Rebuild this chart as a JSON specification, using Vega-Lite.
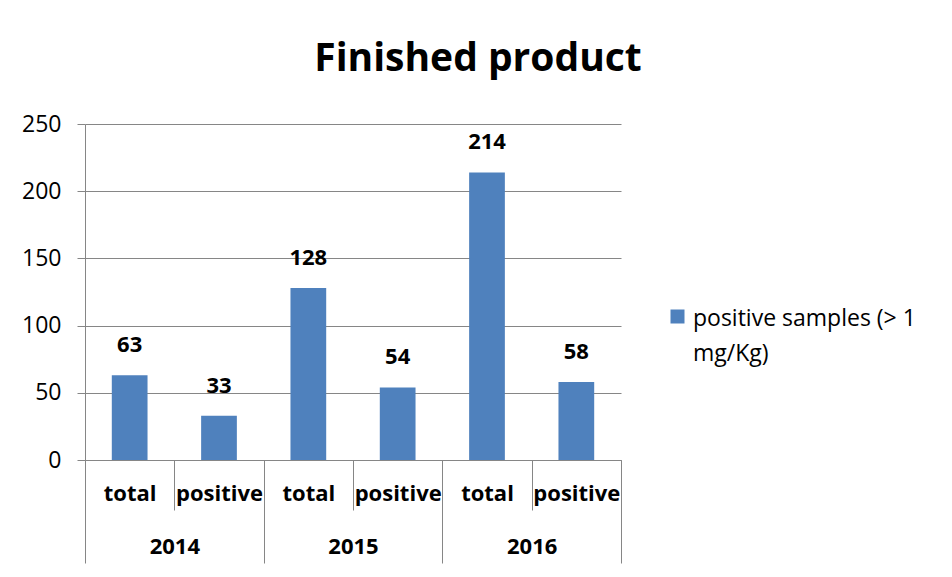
{
  "$schema": "https://vega.github.io/schema/vega-lite/v6.json",
  "width": 536,
  "height": 336,
  "autosize": "none",
  "padding": {"left": 85, "top": 124, "right": 331, "bottom": 117},
  "background": "white",
  "title": {
    "text": "Finished product",
    "font": "Open Sans",
    "fontSize": 39,
    "fontWeight": "bold",
    "color": "black",
    "anchor": "middle",
    "baseline": "alphabetic",
    "dx": 125,
    "dy": 21,
    "offset": 24
  },
  "data": {
    "values": [
      {"cat": "2014 total", "year": "2014", "kind": "total", "value": 63, "series": "positive samples (> 1 mg/Kg)"},
      {"cat": "2014 positive", "year": "2014", "kind": "positive", "value": 33, "series": "positive samples (> 1 mg/Kg)"},
      {"cat": "2015 total", "year": "2015", "kind": "total", "value": 128, "series": "positive samples (> 1 mg/Kg)"},
      {"cat": "2015 positive", "year": "2015", "kind": "positive", "value": 54, "series": "positive samples (> 1 mg/Kg)"},
      {"cat": "2016 total", "year": "2016", "kind": "total", "value": 214, "series": "positive samples (> 1 mg/Kg)"},
      {"cat": "2016 positive", "year": "2016", "kind": "positive", "value": 58, "series": "positive samples (> 1 mg/Kg)"}
    ]
  },
  "layer": [
    {
      "mark": {"type": "bar", "color": "#4F81BD"},
      "encoding": {
        "x": {
          "field": "year",
          "type": "nominal",
          "sort": null,
          "scale": {"type": "band", "paddingInner": 0, "paddingOuter": 0},
          "axis": {
            "title": null,
            "orient": "bottom",
            "labelAngle": 0,
            "tickBand": "extent",
            "tickSize": 103,
            "tickColor": "#868686",
            "domainColor": "#868686",
            "labelFont": "Open Sans",
            "labelFontSize": 22,
            "labelFontWeight": "bold",
            "labelColor": "black",
            "labelBaseline": "alphabetic",
            "labelPadding": -10
          }
        },
        "xOffset": {
          "field": "kind",
          "type": "nominal",
          "sort": ["total", "positive"],
          "scale": {"paddingInner": 0.6, "paddingOuter": 0.3}
        },
        "y": {
          "field": "value",
          "type": "quantitative",
          "scale": {"domain": [0, 250], "nice": false},
          "axis": {
            "title": null,
            "values": [0, 50, 100, 150, 200, 250],
            "grid": true,
            "gridColor": "#868686",
            "tickColor": "#868686",
            "domainColor": "#868686",
            "tickSize": 8,
            "labelPadding": 16,
            "labelFont": "Open Sans",
            "labelFontSize": 23,
            "labelColor": "black"
          }
        },
        "color": {
          "field": "series",
          "type": "nominal",
          "scale": {"range": ["#4F81BD"]},
          "legend": {
            "title": null,
            "orient": "none",
            "legendX": 581,
            "legendY": 181,
            "padding": 0,
            "symbolType": "square",
            "symbolSize": 196,
            "symbolStrokeWidth": 0,
            "labelOffset": 4,
            "labelFont": "Open Sans",
            "labelFontSize": 23,
            "labelColor": "black",
            "labelLimit": 0,
            "labelExpr": "['positive samples (> 1', 'mg/Kg)']",
            "encode": {"labels": {"update": {"lineHeight": {"value": 35}, "dy": {"value": 2.5}}}}
          }
        }
      }
    },
    {
      "mark": {"type": "text", "font": "Open Sans", "fontSize": 22, "fontWeight": "bold", "color": "black", "baseline": "middle", "dy": -30},
      "encoding": {
        "x": {
          "field": "cat",
          "type": "nominal",
          "sort": null,
          "scale": {"type": "band", "paddingInner": 0, "paddingOuter": 0},
          "axis": {
            "title": null,
            "orient": "bottom",
            "labelExpr": "split(datum.value, ' ')[1]",
            "labelAngle": 0,
            "tickBand": "extent",
            "tickSize": 50,
            "tickColor": "#868686",
            "domain": false,
            "labelFont": "Open Sans",
            "labelFontSize": 22,
            "labelFontWeight": "bold",
            "labelColor": "black",
            "labelBaseline": "alphabetic",
            "labelPadding": -10
          }
        },
        "y": {"field": "value", "type": "quantitative"},
        "text": {"field": "value", "type": "quantitative"}
      }
    }
  ],
  "resolve": {"scale": {"x": "independent"}, "axis": {"x": "independent"}},
  "config": {"view": {"stroke": null}}
}
